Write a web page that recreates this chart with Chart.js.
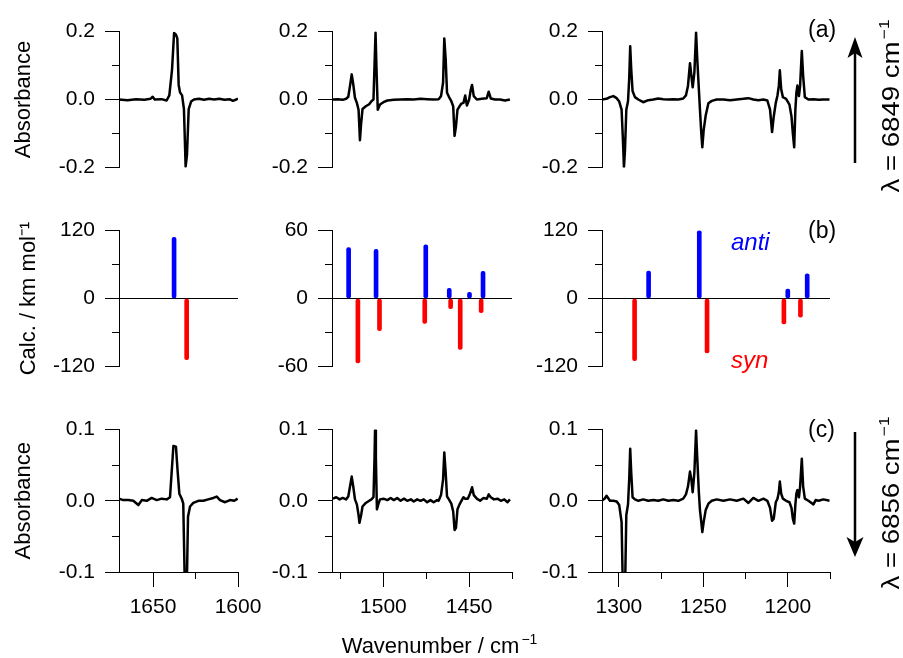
<!DOCTYPE html>
<html><head><meta charset="utf-8">
<script src="https://cdn.jsdelivr.net/npm/chart.js@4/dist/chart.umd.min.js"></script>
<style>
html,body{margin:0;padding:0;background:#fff;}
body{width:903px;height:658px;position:relative;overflow:hidden;font-family:'Liberation Sans',Arial,sans-serif;}
canvas{position:absolute;}
.t{position:absolute;white-space:nowrap;line-height:1;color:#000;}
</style></head><body>
<svg style="position:absolute;left:0;top:0" width="903" height="658">
  <line x1="855" y1="163" x2="855" y2="50" stroke="#000" stroke-width="2.5"/>
  <polygon points="855,37 847.5,58 855,53 862.5,58" fill="#000"/>
  <line x1="855" y1="432" x2="855" y2="544" stroke="#000" stroke-width="2.5"/>
  <polygon points="855,557 846.5,537 855,542 863.5,537" fill="#000"/>
</svg>
<script>
// ---------------- DATA ----------------
// (a) spectra, lambda = 6849 cm-1 : [wavenumber, absorbance]
const specA1 = [[1670,0],[1665,-0.002],[1660,0.001],[1655,-0.001],[1651.5,0.002],[1650.2,0.008],[1649,0],[1645,0.001],[1642,-0.003],[1640.4,0.012],[1638.8,0.088],[1637.6,0.196],[1636.5,0.191],[1635.7,0.18],[1634.9,0.043],[1634.1,0.021],[1632.9,0.012],[1631.8,-0.028],[1630.8,-0.198],[1630.0,-0.162],[1629.0,-0.028],[1627.6,-0.006],[1625.9,0],[1623,0.002],[1620,-0.001],[1617,0.002],[1614,0],[1611,0.002],[1608,-0.001],[1605,0.001],[1603,-0.004],[1601,0],[1600,0.003]];
const specA2 = [[1529.5,0],[1526.7,0.001],[1523.8,-0.001],[1521.8,0.002],[1520.5,0.008],[1519.5,0.04],[1518.5,0.074],[1517.6,0.045],[1516.6,0.005],[1515.5,-0.01],[1514.5,-0.03],[1513.7,-0.12],[1513.0,-0.07],[1512.2,-0.028],[1510.3,-0.02],[1508.3,-0.014],[1507.0,-0.005],[1505.8,0],[1505.2,0.1],[1504.6,0.197],[1504.1,0.1],[1503.3,-0.03],[1502.0,-0.015],[1500,-0.008],[1497.7,-0.003],[1493.9,-0.001],[1490,0],[1486.1,0.001],[1482.3,0],[1478.4,0.002],[1474.5,0.001],[1470.7,0],[1467.8,0.001],[1466.4,0.01],[1465.2,0.05],[1464.5,0.18],[1463.7,0.12],[1462.9,0.02],[1461.8,0.008],[1460.4,-0.005],[1459.3,-0.02],[1458.5,-0.107],[1457.7,-0.08],[1456.8,-0.03],[1455.6,-0.02],[1454.5,-0.012],[1453.3,-0.01],[1452.3,0.012],[1451.3,-0.018],[1450,0],[1449,0.03],[1448.3,0.043],[1447.3,0.01],[1445.5,0],[1442.6,0.002],[1439.7,0.004],[1438.6,0.023],[1437.4,0.003],[1434.9,0],[1432,0],[1429.1,-0.003],[1426.2,0]];
const specA3 = [[1310.2,0],[1307.3,0.002],[1305.3,0.007],[1303.3,0.01],[1301.3,0.004],[1299.8,-0.006],[1298.4,-0.03],[1297.6,-0.12],[1297.0,-0.2],[1296.4,-0.15],[1295.6,-0.03],[1294.6,-0.005],[1293.9,0.06],[1293.3,0.157],[1292.7,0.09],[1291.9,0.025],[1290.5,0.007],[1288.5,0],[1285.6,-0.008],[1282.6,-0.002],[1279.6,0],[1276.7,0.003],[1273.7,0.001],[1270.7,0],[1267.8,0.001],[1264.8,0],[1261.9,0.003],[1260.3,0.012],[1259.1,0.04],[1257.9,0.107],[1257.1,0.07],[1256.3,0.036],[1255.3,0.08],[1254.3,0.197],[1253.6,0.12],[1252.7,0.035],[1252.0,-0.03],[1251.2,-0.1],[1250.6,-0.141],[1249.8,-0.09],[1248.6,-0.047],[1247.0,-0.011],[1245.0,-0.004],[1242.1,0],[1238.1,0],[1234.2,-0.002],[1230.2,0],[1226.3,0.002],[1223.3,0.004],[1220.4,0],[1217.4,-0.002],[1214.4,0],[1212.1,-0.003],[1210.5,-0.03],[1209.3,-0.096],[1208.3,-0.05],[1207.1,-0.01],[1206.1,0.012],[1205.3,0.04],[1204.7,0.086],[1203.9,0.03],[1202.9,0.007],[1201.0,0.002],[1199.0,-0.015],[1197.8,-0.05],[1197.0,-0.1],[1196.2,-0.141],[1195.5,-0.03],[1194.9,0.02],[1194.3,0.041],[1193.4,0.01],[1192.7,0.04],[1191.7,0.143],[1190.9,0.07],[1189.9,0.007],[1187.8,0],[1184.8,0.001],[1181.8,-0.001],[1178.9,0],[1175.3,0]];
// (c) spectra, lambda = 6856 cm-1
const specC1 = [[1670,0.003],[1667.5,0.001],[1664.5,0.001],[1661.6,0],[1658.6,-0.006],[1656.6,0.001],[1653.7,0],[1650.8,0.004],[1647.8,0.001],[1644.9,0.003],[1641.9,0.002],[1640,0.005],[1639,0.041],[1638,0.077],[1636.5,0.076],[1635.5,0.041],[1634.5,0.01],[1633.1,0.003],[1632.2,-0.004],[1631.2,-0.13],[1630.2,-0.13],[1629.4,-0.022],[1628.2,-0.008],[1626.3,-0.003],[1623.3,0],[1620.4,0],[1617.5,0.002],[1614.5,0.004],[1612.5,0.006],[1610.6,0.001],[1607.6,-0.002],[1604.7,0.001],[1602.2,0],[1600.2,0.003]];
const specC2 = [[1529.5,0.003],[1527.5,0.005],[1525.5,0.002],[1523.8,0.004],[1521.8,0.002],[1520.5,0.006],[1519.5,0.02],[1518.5,0.034],[1517.6,0.02],[1516.6,0.002],[1515.5,-0.005],[1514.5,-0.02],[1514.0,-0.031],[1513.0,-0.02],[1512.2,-0.008],[1510.3,-0.003],[1508.3,0],[1507.0,0.002],[1505.8,0.005],[1505.2,0.06],[1504.9,0.099],[1504.4,0.06],[1503.8,-0.012],[1503.0,-0.005],[1502.0,0.002],[1500,0.003],[1497.7,0.001],[1495.8,0.004],[1493.9,0.001],[1492,0.004],[1490,0],[1488,0.003],[1486.1,0],[1484,0.002],[1482.3,-0.001],[1480.3,0.002],[1478.4,0],[1476.5,0.002],[1474.5,-0.002],[1472.6,0.001],[1470.7,-0.002],[1468.7,0.001],[1467.8,0],[1466.4,0.008],[1465.2,0.03],[1464.5,0.068],[1463.7,0.04],[1462.9,0.006],[1461.8,0.002],[1460.4,-0.004],[1459.3,-0.015],[1458.5,-0.041],[1457.7,-0.038],[1456.8,-0.012],[1455.6,-0.005],[1454.5,0],[1453.3,0.005],[1452.3,0.003],[1450.8,0.003],[1449.5,0.01],[1448.3,0.019],[1447.3,0.008],[1445.5,0.003],[1443.6,0],[1441.6,0.004],[1439.7,0.003],[1438.6,0.009],[1437.4,0.005],[1435.5,0.002],[1433.5,0.003],[1431.5,0],[1429.5,0.002],[1427.6,-0.002],[1426.2,0.002]];
const specC3 = [[1310.2,0],[1308.5,0.003],[1307.3,0.007],[1305.3,0],[1303.3,0],[1301.3,-0.001],[1299.8,-0.006],[1298.4,-0.03],[1297.6,-0.13],[1297.0,-0.13],[1296.4,-0.13],[1295.6,-0.02],[1294.6,-0.005],[1293.9,0.03],[1293.3,0.073],[1292.7,0.04],[1291.9,0.005],[1290.5,0.002],[1288.5,0],[1285.6,0.002],[1282.6,0],[1279.6,0.001],[1276.7,0],[1273.7,0.002],[1270.7,0],[1267.8,0.001],[1264.8,0],[1261.9,0.003],[1260.3,0.009],[1259.1,0.02],[1257.9,0.041],[1257.1,0.03],[1256.3,0.012],[1255.3,0.04],[1254.3,0.099],[1253.6,0.06],[1252.7,0.014],[1252.0,-0.013],[1251.2,-0.03],[1250.6,-0.044],[1249.8,-0.03],[1248.6,-0.013],[1247.0,-0.004],[1245.0,0],[1242.1,0.002],[1238.1,0],[1234.2,0.002],[1230.2,0],[1226.3,0.003],[1223.3,-0.003],[1220.4,0.004],[1217.4,0],[1214.4,0.003],[1212.1,0],[1210.5,-0.01],[1209.3,-0.028],[1208.3,-0.025],[1207.1,-0.002],[1206.1,0.003],[1205.3,0.012],[1204.7,0.027],[1203.9,0.01],[1202.9,0.003],[1201.0,0],[1199.0,-0.002],[1197.8,-0.01],[1197.0,-0.025],[1196.2,-0.032],[1195.5,-0.005],[1194.9,0.01],[1194.3,0.015],[1193.4,0.005],[1192.7,0.02],[1191.7,0.059],[1190.9,0.02],[1189.9,0.003],[1187.8,0],[1184.8,-0.005],[1183.5,0.001],[1181.8,0],[1178.9,0.002],[1175.3,0]];
// (b) calculated intensities (km mol-1): [wavenumber, intensity]
const anti1 = [[1637.6,108]];
const syn1  = [[1630.2,-108]];
const anti2 = [[1520.3,45],[1504.3,43.5],[1475.3,47.5],[1461.6,9],[1449.8,5.5],[1441.9,24]];
const syn2  = [[1514.9,-57],[1502.3,-28.5],[1475.9,-22],[1460.8,-9],[1455.2,-45],[1443,-12.5]];
const anti3 = [[1282.4,48.5],[1252.4,120],[1200,16.5],[1188.5,43.5]];
const syn3  = [[1290.7,-110],[1247.8,-96],[1202.3,-45],[1192.5,-33]];
// axis ranges and ticks
const xRange1 = [1600,1670], xMajor1 = [1650,1600], xMinor1 = [1625];
const xRange2 = [1425,1530], xMajor2 = [1500,1450], xMinor2 = [1525,1475,1425];
const xRange3 = [1175,1310], xMajor3 = [1300,1250,1200], xMinor3 = [1275,1225,1175];
const yAbsA = [-0.2,0.2], yAbsAMajor = [-0.2,0,0.2], yAbsAMinor = [-0.1,0.1];
const yCalcWide = [-120,120], yCalcWideMajor = [-120,0,120], yCalcWideMinor = [-60,60];
const yCalcMid = [-60,60], yCalcMidMajor = [-60,0,60], yCalcMidMinor = [-30,30];
const yAbsC = [-0.1,0.1], yAbsCMajor = [-0.1,0,0.1], yAbsCMinor = [-0.05,0.05];
const yTitles = ['Absorbance','Calc. / km mol\u207B\u00B9','Absorbance'];

// ---------------- LAYOUT ----------------
Chart.defaults.font.family = "'Liberation Sans', Arial, sans-serif";
Chart.defaults.color = '#000';
const COLS = [
  {left:119, right:238, range:xRange1, major:xMajor1, minor:xMinor1},
  {left:332, right:512, range:xRange2, major:xMajor2, minor:xMinor2},
  {left:602, right:830, range:xRange3, major:xMajor3, minor:xMinor3}
];
const ROWS = [{top:25,bottom:174},{top:224,bottom:373},{top:423,bottom:572}];
const toXY = arr => arr.map(p => ({x:p[0], y:p[1]}));
const setTicks = vals => s => { s.ticks = vals.map(v => ({value:v})); };

function panel(r, c, type, datasets, yr, yMaj, yMin, fmt) {
  const col = COLS[c], row = ROWS[r];
  const YW = c === 0 ? col.left : 80, PT = 16, PR = 40, PB = 16, XH = 50;
  const bottomRow = r === 2;
  const w = YW + (col.right - col.left) + PR;
  const h = PT + (row.bottom - row.top) + (bottomRow ? XH : PB);
  const cv = document.createElement('canvas');
  cv.width = w; cv.height = h;
  cv.style.left = (col.left - YW) + 'px'; cv.style.top = (row.top - PT) + 'px';
  cv.style.width = w + 'px'; cv.style.height = h + 'px';
  document.body.appendChild(cv);
  new Chart(cv, {
    type: type,
    data: {datasets: datasets},
    options: {
      responsive:false, animation:false, devicePixelRatio:1, events:[],
      layout:{padding:{left:0, top:PT, right:PR, bottom: bottomRow ? 0 : PB}},
      plugins:{legend:{display:false}, tooltip:{enabled:false}},
      scales: {
        x: {type:'linear', reverse:true, min:col.range[0], max:col.range[1], offset:false,
            display:bottomRow, position:'bottom', weight:1,
            afterBuildTicks:setTicks(col.major), afterFit:s => { s.height = bottomRow ? XH : 0; },
            grid:{drawOnChartArea:false, tickLength:15, color:'#000', tickColor:'#000', lineWidth:1},
            border:{display:true, color:'#000', width:1},
            ticks:{padding:8, font:{size:21}, color:'#000', maxRotation:0, autoSkip:false, callback:v => String(v)}},
        x2: {type:'linear', axis:'x', reverse:true, min:col.range[0], max:col.range[1], offset:false,
            display:bottomRow, position:'bottom', weight:0,
            afterBuildTicks:setTicks(col.minor), afterFit:s => { s.height = 0; },
            grid:{drawOnChartArea:false, tickLength:7, color:'#000', lineWidth:1},
            border:{display:false}, ticks:{display:false}},
        y: {type:'linear', min:yr[0], max:yr[1], position:'left', weight:1,
            afterBuildTicks:setTicks(yMaj), afterFit:s => { s.width = YW; },
            grid:{drawOnChartArea: r === 1, lineWidth:1, tickLength:14, tickColor:'#000',
                  color: ctx => (r === 1 && ctx.tick && ctx.tick.value === 0) ? '#000' : 'rgba(0,0,0,0)'},
            border:{display:true, color:'#000', width:1},
            ticks:{padding:10, font:{size:21}, color:'#000', autoSkip:false, callback:fmt},
            title: c === 0 ? {display:true, text:yTitles[r], color:'#000', font:{size:22},
                              padding:{top: r === 1 ? 16 : 11, bottom:0}} : {display:false}},
        y2: {type:'linear', axis:'y', min:yr[0], max:yr[1], position:'left', weight:0,
            afterBuildTicks:setTicks(yMin), afterFit:s => { s.width = 0; },
            grid:{drawOnChartArea:false, tickLength:7, color:'#000', lineWidth:1},
            border:{display:false}, ticks:{display:false}}
      }
    }
  });
}
const lineDs = d => [{type:'line', data:toXY(d), borderColor:'#000', borderWidth:2.5, pointRadius:0,
                      tension:0, borderJoinStyle:'round', fill:false}];
const barDs = (a, s) => [
  {type:'bar', data:toXY(a), backgroundColor:'#0000ff', barThickness:4, grouped:false, borderRadius:2, borderSkipped:false},
  {type:'bar', data:toXY(s), backgroundColor:'#ff0000', barThickness:4, grouped:false, borderRadius:2, borderSkipped:false}
];
const f1 = v => v.toFixed(1), f0 = v => String(v);
panel(0,0,'line',lineDs(specA1),yAbsA,yAbsAMajor,yAbsAMinor,f1);
panel(0,1,'line',lineDs(specA2),yAbsA,yAbsAMajor,yAbsAMinor,f1);
panel(0,2,'line',lineDs(specA3),yAbsA,yAbsAMajor,yAbsAMinor,f1);
panel(1,0,'bar',barDs(anti1,syn1),yCalcWide,yCalcWideMajor,yCalcWideMinor,f0);
panel(1,1,'bar',barDs(anti2,syn2),yCalcMid,yCalcMidMajor,yCalcMidMinor,f0);
panel(1,2,'bar',barDs(anti3,syn3),yCalcWide,yCalcWideMajor,yCalcWideMinor,f0);
panel(2,0,'line',lineDs(specC1),yAbsC,yAbsCMajor,yAbsCMinor,f1);
panel(2,1,'line',lineDs(specC2),yAbsC,yAbsCMajor,yAbsCMinor,f1);
panel(2,2,'line',lineDs(specC3),yAbsC,yAbsCMajor,yAbsCMinor,f1);
</script>
<div class="t" style="left:808px;top:17.7px;font-size:23px;">(a)</div>
<div class="t" style="left:808px;top:218.7px;font-size:23px;">(b)</div>
<div class="t" style="left:808px;top:417.7px;font-size:23px;">(c)</div>
<div class="t" style="left:731px;top:229.7px;font-size:24px;font-style:italic;color:#0000ff;">anti</div>
<div class="t" style="left:731px;top:348px;font-size:24px;font-style:italic;color:#ff0000;">syn</div>
<div class="t" style="left:341.7px;top:635.4px;font-size:22px;">Wavenumber / cm<span style="font-size:14px;position:relative;top:-9px;margin-left:2px;">&minus;1</span></div>
<div class="t" style="left:891.7px;top:106px;font-size:24px;line-height:24px;transform:translate(-50%,-50%) rotate(-90deg) scaleX(1.15);">&lambda; = 6849 cm<span style="font-size:15px;position:relative;top:-10px;margin-left:2px;">&minus;1</span></div>
<div class="t" style="left:891.7px;top:503px;font-size:24px;line-height:24px;transform:translate(-50%,-50%) rotate(-90deg) scaleX(1.15);">&lambda; = 6856 cm<span style="font-size:15px;position:relative;top:-10px;margin-left:2px;">&minus;1</span></div>
</body></html>
